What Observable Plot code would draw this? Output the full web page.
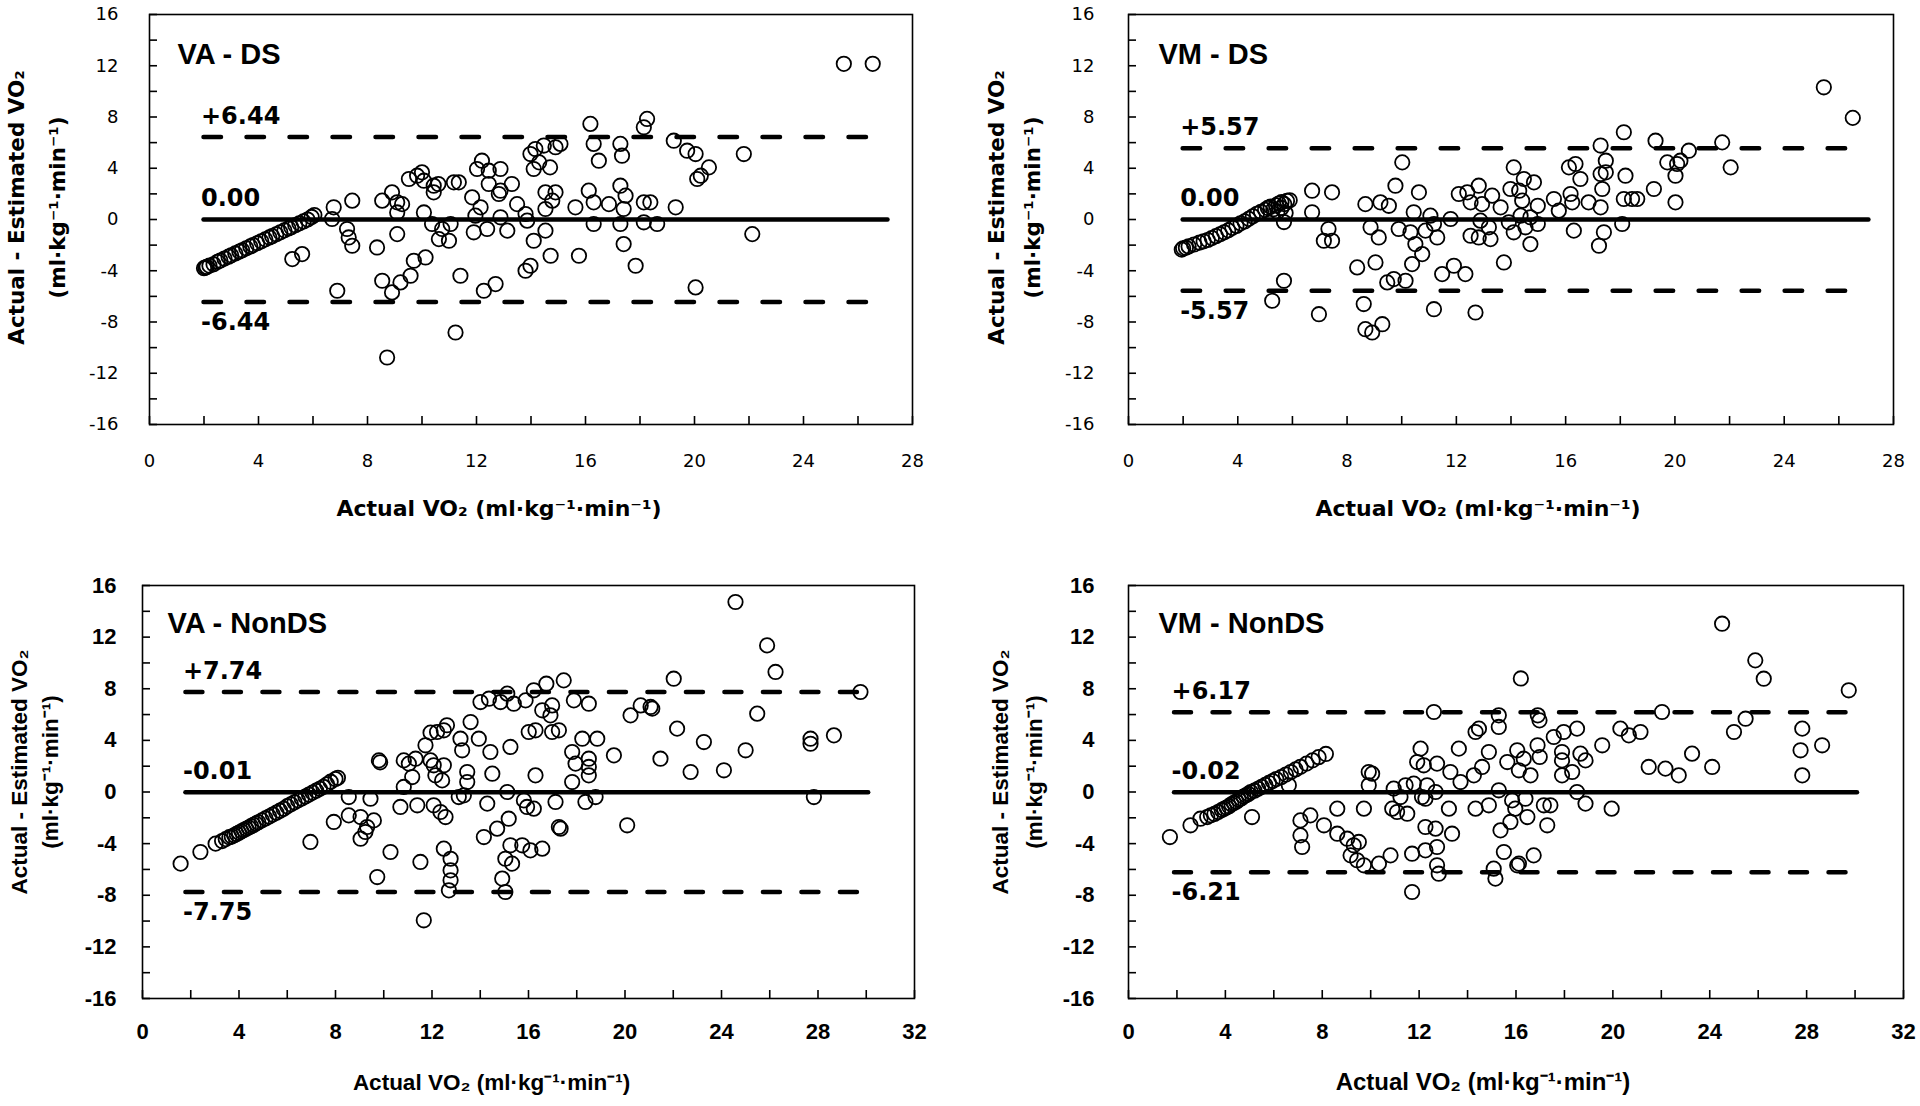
<!DOCTYPE html>
<html><head><meta charset="utf-8">
<script src="https://cdn.jsdelivr.net/npm/d3@7"></script>
<script src="https://cdn.jsdelivr.net/npm/@observablehq/plot@0.6"></script>
<style>
body{margin:0;background:#fff;}
#wrap{position:relative;width:1920px;height:1106px;overflow:hidden;background:#fff;}
#wrap svg{position:absolute;}
</style></head><body><div id="wrap"></div>
<script>
// ---------- axis ticks ----------
const yTicks = [-16,-12,-8,-4,0,4,8,12,16];
const yMinorTicks = [-16,-14,-12,-10,-8,-6,-4,-2,0,2,4,6,8,10,12,14,16];
const xTicksDS = [0,4,8,12,16,20,24,28];
const xMinorDS = [0,2,4,6,8,10,12,14,16,18,20,22,24,26,28];
const xTicksNonDS = [0,4,8,12,16,20,24,28,32];
const xMinorNonDS = [0,2,4,6,8,10,12,14,16,18,20,22,24,26,28,30,32];

// ---------- panel summary values ----------
const panelNames = ["VA - DS","VM - DS","VA - NonDS","VM - NonDS"];
const upperLoA  = [6.44, 5.57, 7.74, 6.17];
const meanBias  = [0.00, 0.00, -0.01, -0.02];
const lowerLoA  = [-6.44, -5.57, -7.75, -6.21];
const lineStartX = [2.0, 2.0, 1.8, 1.9];
const lineEndX   = [27.1, 27.1, 30.1, 30.1];
const xMax = [28, 28, 32, 32];
const xTitle = "Actual VO₂ (ml·kg⁻¹·min⁻¹)";
const yTitle = "Actual - Estimated VO₂\n(ml·kg⁻¹·min⁻¹)";

// ---------- points [actual VO2, actual - estimated] ----------
const vaDS = [
[2.0,-3.8],[2.05,-3.75],[2.1,-3.7],[2.2,-3.6],[2.35,-3.5],[2.5,-3.3],[2.6,-3.2],[2.75,-3.05],[2.9,-2.9],[3.0,-2.8],
[3.15,-2.65],[3.3,-2.5],[3.4,-2.4],[3.55,-2.25],[3.7,-2.1],[3.8,-2.0],[3.95,-1.85],[4.1,-1.7],[4.25,-1.55],[4.4,-1.4],
[4.5,-1.3],[4.65,-1.15],[4.8,-1.0],[4.95,-0.85],[5.1,-0.7],[5.2,-0.6],[5.35,-0.45],[5.5,-0.3],[5.65,-0.15],[5.8,0.0],
[5.95,0.2],[6.05,0.35],
[6.76,0.95],[6.70,0.04],[7.44,1.47],[7.25,-0.74],[7.31,-1.4],[7.44,-2.05],[5.24,-3.09],[5.60,-2.70],[6.89,-5.56],
[8.35,-2.18],[8.54,1.47],[8.9,2.12],[9.09,1.34],[9.27,1.2],[9.09,0.55],[9.09,-1.14],[8.54,-4.78],[8.9,-5.69],[8.72,-10.77],
[9.21,-4.91],[9.58,-4.39],[9.70,-3.22],[10.13,-2.96],[9.52,3.16],[9.82,3.42],[10.0,3.68],[10.07,3.03],[10.43,2.64],[10.6,2.77],
[10.43,2.12],[10.07,0.55],[10.37,-0.35],[10.74,-0.74],[10.62,-1.53],[10.99,-1.66],[11.17,2.9],[11.35,2.9],[11.05,-0.35],
[11.41,-4.39],[11.23,-8.82],[11.84,1.73],[12.15,0.95],[11.96,0.3],[11.9,-1.0],[12.02,3.94],[12.2,4.59],[12.45,3.81],
[12.88,3.94],[12.45,2.77],[12.82,1.99],[12.88,2.25],[13.3,2.77],[13.49,1.2],[12.88,0.17],[12.39,-0.74],[13.13,-0.87],
[12.27,-5.56],[12.7,-5.04],[13.86,-0.09],
[13.98,5.11],[14.16,5.5],[14.47,5.77],[14.9,5.64],[15.08,5.9],[14.1,3.94],[14.3,4.46],[14.7,4.07],[14.53,2.12],[14.9,2.12],
[14.78,1.47],[14.53,0.82],[13.8,0.43],[14.53,-0.87],[14.1,-1.66],[14.72,-2.83],[13.98,-3.61],[13.8,-4.0],[15.63,0.95],
[15.76,-2.83],[16.18,7.46],[16.3,5.9],[16.49,4.59],[16.12,2.25],[16.3,1.34],[16.3,-0.35],[16.86,1.2],[17.28,5.9],
[17.34,4.98],[17.28,2.64],[17.47,1.86],[17.4,0.82],[17.28,-0.35],[17.4,-1.92],[17.84,-3.61],[18.26,7.85],[18.14,7.2],
[18.14,1.34],[18.38,1.34],[18.14,-0.22],[18.63,-0.35],[19.31,0.95],[19.24,6.15],[19.73,5.37],[20.04,5.11],[20.53,4.07],
[20.10,3.16],[20.23,3.42],[20.04,-5.3],[21.81,5.11],[22.12,-1.14],[25.48,12.15],[26.54,12.15]
];

const vmDS = [
[1.95,-2.35],[2.0,-2.25],[2.1,-2.2],[2.2,-2.1],[2.4,-1.95],[2.6,-1.8],[2.75,-1.7],[2.9,-1.6],[3.05,-1.45],[3.2,-1.3],
[3.35,-1.15],[3.5,-1.0],[3.65,-0.85],[3.8,-0.65],[3.95,-0.5],[4.1,-0.3],[4.25,-0.15],[4.4,0.05],[4.55,0.25],[4.7,0.45],
[4.85,0.6],[5.0,0.75],[5.1,0.9],[5.2,1.0],[5.3,0.8],[5.4,1.1],[5.5,1.25],[5.6,1.35],[5.7,1.2],[5.8,1.45],[5.9,1.5],
[5.45,0.6],[5.6,0.9],[5.75,0.5],
[6.72,2.25],[7.45,2.12],[6.72,0.56],[7.32,-0.74],[7.15,-1.66],[7.45,-1.66],[5.69,-0.2],[5.69,-4.78],[5.26,-6.34],
[6.97,-7.39],[8.37,-3.74],[8.61,-6.6],[8.67,-8.56],[8.92,-8.82],[9.29,-8.17],[8.67,1.2],[9.22,1.34],[9.53,1.07],
[8.86,-0.61],[9.16,-1.4],[9.04,-3.35],[9.47,-4.91],[9.71,-4.65],[10.14,-4.78],[9.77,2.64],[10.02,4.46],[10.63,2.12],
[10.44,0.56],[9.89,-0.74],[10.32,-1.0],[10.5,-1.92],[10.87,-0.87],[11.05,0.3],[11.18,-0.35],[11.3,-1.4],[10.75,-2.7],
[10.38,-3.48],[11.18,-7.0],[11.48,-4.26],[11.91,-3.61],[12.33,-4.26],[12.7,-7.26],[11.79,0.04],[12.09,1.99],[12.4,2.12],
[12.82,2.64],[12.52,1.34],[12.94,1.2],[13.31,1.86],[12.88,-0.09],[13.19,-0.61],[12.52,-1.27],[12.82,-1.4],[13.25,-1.53],
[13.74,-3.35],[13.62,0.95],[13.98,2.38],[13.92,-0.22],
[14.1,4.07],[14.3,2.25],[14.47,3.16],[14.84,2.9],[14.41,1.47],[14.98,1.07],[14.35,0.3],[14.71,0.17],[14.98,-0.35],
[14.1,-1.0],[14.53,-0.61],[14.71,-1.92],[15.57,1.6],[15.75,0.69],[16.18,1.99],[16.24,1.34],[16.12,4.07],[16.36,4.33],
[16.54,3.16],[16.84,1.34],[16.3,-0.87],[17.28,5.77],[17.47,4.59],[17.28,3.55],[17.47,3.68],[17.34,2.38],[17.28,0.95],
[17.4,-1.0],[17.22,-2.05],[18.13,6.81],[18.19,3.42],[18.13,1.6],[18.43,1.6],[18.62,1.6],[18.07,-0.35],[19.29,6.15],
[19.23,2.38],[19.72,4.46],[20.08,4.33],[20.2,4.59],[20.02,3.42],[20.02,1.34],[20.51,5.37],[21.73,6.02],[22.04,4.07],
[25.45,10.32],[26.51,7.93]
];

const vaNonDS = [
[1.58,-5.55],[2.4,-4.65],[3.03,-4.0],
[3.3,-3.8],[3.45,-3.65],[3.6,-3.5],[3.7,-3.45],[3.8,-3.35],[3.9,-3.25],[4.0,-3.15],[4.1,-3.05],[4.2,-2.95],[4.3,-2.85],
[4.4,-2.75],[4.5,-2.65],[4.6,-2.55],[4.7,-2.45],[4.8,-2.35],[4.95,-2.2],[5.1,-2.05],[5.25,-1.9],[5.4,-1.75],[5.55,-1.6],
[5.7,-1.45],[5.85,-1.3],[6.0,-1.1],[6.15,-0.95],[6.3,-0.8],[6.45,-0.65],[6.6,-0.5],[6.75,-0.35],[6.9,-0.2],[7.05,-0.05],
[7.2,0.1],[7.35,0.25],[7.5,0.4],[7.65,0.6],[7.8,0.8],[8.0,1.0],[8.1,1.1],
[6.96,-3.87],[7.93,-2.32],[8.55,-1.81],[8.55,-0.39],[9.45,-0.52],[9.04,-1.94],[9.31,-2.71],[9.24,-3.1],[9.04,-3.62],
[9.59,-2.2],[9.8,2.45],[9.85,2.3],[9.73,-6.59],[10.28,-4.65],[10.83,0.39],[10.69,-1.16],[10.83,2.45],[11.04,2.2],
[11.32,2.58],[11.18,1.16],[11.39,-1.03],[11.52,-5.42],[11.66,-9.94],[11.73,3.62],[11.94,4.6],[12.21,4.65],[12.49,4.78],
[12.62,5.17],[11.94,2.45],[12.07,2.07],[12.14,1.29],[12.49,2.07],[12.42,0.9],[12.07,-1.03],[12.35,-1.55],[12.56,-1.94],
[12.49,-4.39],[12.77,-5.17],[12.77,-6.07],[12.77,-6.84],[12.7,-7.62],[13.18,4.13],[13.25,3.23],[13.6,5.42],[13.94,4.13],
[13.46,1.55],[13.46,0.77],[13.32,-0.26],[13.11,-0.39],[14.42,3.1],[14.5,1.42],[14.15,-3.49],[14.7,-2.84],[15.18,-2.07],
[15.12,0.0],[14.29,-0.9],[15.25,3.49],[14.01,6.97],[14.36,7.23],[14.84,6.97],[15.12,7.62],[15.39,6.84],[16.01,4.65],
[16.29,4.78],[15.25,-4.13],[15.74,-4.13],[16.08,-4.52],[15.04,-5.17],[15.32,-5.55],[14.91,-6.71],[15.04,-7.75],
[15.94,-1.16],[15.81,-0.65],[16.29,1.29],
[15.88,7.1],[16.22,7.88],[16.74,8.39],[17.46,8.65],[17.88,7.1],[18.5,6.84],[16.57,6.33],[16.98,6.71],[16.91,5.94],
[16.98,4.65],[17.26,4.78],[18.23,4.13],[18.85,4.13],[17.81,3.1],[18.5,2.58],[17.95,2.2],[18.5,1.94],[18.5,1.29],
[17.81,0.77],[19.54,2.84],[16.22,-1.29],[17.12,-0.77],[18.36,-0.77],[18.78,-0.39],[17.26,-2.71],[17.33,-2.84],
[16.57,-4.39],[20.09,-2.58],[20.23,5.94],[20.65,6.71],[21.06,6.59],[21.13,6.46],[21.47,2.58],[22.02,8.78],[22.16,4.91],
[22.72,1.55],[23.27,3.87],[24.1,1.68],[24.58,14.72],[25.0,3.23],[25.48,6.07],[25.89,11.36],[26.24,9.3],[27.69,4.13],
[27.69,3.74],[27.83,-0.39],[28.66,4.39],[29.76,7.75]
];

const vmNonDS = [
[1.71,-3.49],[2.56,-2.58],[2.97,-2.07],[3.25,-1.94],
[3.4,-1.8],[3.55,-1.7],[3.7,-1.55],[3.85,-1.4],[3.95,-1.3],[4.05,-1.2],[4.15,-1.1],[4.25,-0.95],[4.35,-0.85],[4.45,-0.75],
[4.55,-0.6],[4.65,-0.5],[4.75,-0.35],[4.85,-0.25],[4.95,-0.15],[5.05,0.0],[5.2,0.1],[5.35,0.25],[5.5,0.4],[5.65,0.55],
[5.8,0.7],[5.95,0.85],[6.1,1.0],[6.3,1.15],[6.5,1.35],[6.7,1.55],[6.9,1.75],[7.1,1.95],[7.35,2.2],[7.6,2.45],[7.85,2.7],
[8.15,2.95],
[5.1,-1.94],[6.62,0.52],[7.1,-2.2],[7.1,-3.36],[7.17,-4.26],[7.51,-1.81],[8.07,-2.58],[8.62,-1.29],[8.62,-3.23],
[9.03,-3.62],[9.3,-4.13],[9.51,-3.87],[9.17,-4.91],[9.44,-5.29],[9.72,-5.68],[10.34,-5.55],[10.82,-4.91],[9.72,-1.29],
[9.92,1.55],[10.06,1.42],[9.92,0.52],[10.95,0.26],[10.89,-1.29],[11.09,-1.55],[11.51,-1.68],[11.23,-0.39],[11.44,0.52],
[11.71,-4.78],[11.71,-7.75],[12.06,3.36],[11.92,2.32],[12.19,2.07],[11.78,0.65],[12.12,-0.39],[12.26,-0.52],[12.33,0.52],
[12.74,2.2],[12.68,0.0],[12.26,-2.71],[12.68,-2.84],[12.26,-4.52],[12.74,-4.26],[12.74,-5.68],[12.81,-6.33],[12.61,6.2],
[13.23,-1.29],[13.36,-3.23],[13.29,1.55],[13.64,3.36],[13.71,0.77],[14.33,4.65],[14.47,4.91],[14.88,3.1],[14.6,1.94],
[14.26,1.29],[14.33,-1.29],[14.88,-1.03],[15.29,0.13],[15.36,-2.97],[15.77,-2.32],[15.5,-4.65],[15.08,-5.94],[15.15,-6.71],
[15.29,5.94],[15.29,5.04],[15.64,2.32],[16.05,3.23],[16.2,8.8],[16.05,-5.68],
[16.9,5.94],[16.97,5.55],[17.97,4.65],[18.52,4.91],[17.56,4.26],[16.89,3.62],[16.98,2.71],[16.32,2.58],[16.12,1.68],
[16.6,1.29],[17.9,3.1],[17.9,2.45],[18.32,1.55],[17.9,1.29],[18.66,2.97],[18.87,2.45],[19.56,3.62],[20.31,4.91],
[20.66,4.39],[21.14,4.65],[22.03,6.2],[21.48,1.94],[22.17,1.81],[22.72,1.29],[23.27,2.97],[24.1,1.94],[25.0,4.65],
[25.48,5.68],[24.51,13.04],[25.88,10.2],[26.23,8.78],[27.82,4.91],[27.75,3.23],[27.82,1.29],[28.64,3.62],[29.74,7.88],
[15.84,-0.65],[15.97,-1.29],[16.39,-0.52],[16.47,-1.94],[17.29,-2.58],[17.15,-1.03],[17.42,-1.03],[18.52,0.0],
[18.87,-0.9],[19.95,-1.29],[16.73,-4.91],[16.12,-5.55]
];

const panelData = [vaDS, vmDS, vaNonDS, vmNonDS];

// ---------- layout (styling, not data) ----------
const DJ = "'DejaVu Sans', Verdana, sans-serif";
const LB = "'Liberation Sans', Arial, sans-serif";
const W = 960, H = 553, TICK = 8;
const layouts = [
  {left:0,   top:0,   ml:149, mr:48, mt:14, mb:129, xt:xTicksDS, xm:xMinorDS,
   tickFont:DJ, tickWeight:"normal", tickSize:18, yPad:31, xPad:30,
   titleFont:DJ, xTitleSize:22, yTitleSize:21.5, xTitleDy:84, xTitleDx:-32, yTitleDx:-118, yTitleDy:-12, yLH:1.9,
   nameDx:28, nameDy:40, dash:[17.5,25.5]},
  {left:960, top:0,   ml:168, mr:27, mt:14, mb:129, xt:xTicksDS, xm:xMinorDS,
   tickFont:DJ, tickWeight:"normal", tickSize:18, yPad:34, xPad:30,
   titleFont:DJ, xTitleSize:22, yTitleSize:21.5, xTitleDy:84, xTitleDx:-33, yTitleDx:-118, yTitleDy:-12, yLH:1.7,
   nameDx:30, nameDy:40, dash:[17.5,25.5]},
  {left:0,   top:553, ml:142, mr:46, mt:32, mb:108, xt:xTicksNonDS, xm:xMinorNonDS,
   tickFont:LB, tickWeight:"bold", tickSize:22, yPad:26, xPad:25,
   titleFont:LB, xTitleSize:22.5, yTitleSize:22.5, xTitleDy:84, xTitleDx:-37, yTitleDx:-110, yTitleDy:-20, yLH:1.4,
   nameDx:25, nameDy:38, dash:[17,21.5]},
  {left:960, top:553, ml:168, mr:17, mt:32, mb:108, xt:xTicksNonDS, xm:xMinorNonDS,
   tickFont:LB, tickWeight:"bold", tickSize:22, yPad:34, xPad:25,
   titleFont:LB, xTitleSize:24, yTitleSize:22.5, xTitleDy:84, xTitleDx:-33, yTitleDx:-114, yTitleDy:-20, yLH:1.5,
   nameDx:30, nameDy:38, dash:[17,21.5]}
];

const wrap = document.getElementById("wrap");

panelData.forEach((data, i) => {
  const L = layouts[i];
  const plotW = W - L.ml - L.mr, plotH = H - L.mt - L.mb;
  const s = lineStartX[i], e = lineEndX[i];
  const ruleRows = [
    {y: upperLoA[i], x1: s, x2: e},
    {y: lowerLoA[i], x1: s, x2: e}
  ];
  const meanRow = [{y: meanBias[i], x1: s, x2: e}];
  const aboveLabels = [
    {x: s, y: upperLoA[i], t: "+" + upperLoA[i].toFixed(2)},
    {x: s, y: meanBias[i], t: meanBias[i].toFixed(2)}
  ];
  const belowLabels = [{x: s, y: lowerLoA[i], t: lowerLoA[i].toFixed(2)}];

  const svg = Plot.plot({
    width: W, height: H,
    marginLeft: L.ml, marginRight: L.mr, marginTop: L.mt, marginBottom: L.mb,
    x: {domain: [0, xMax[i]]},
    y: {domain: [-16, 16]},
    style: {background: "white", color: "black", overflow: "visible"},
    marks: [
      Plot.frame({stroke: "black", strokeWidth: 1.6}),
      // inward tick marks (short rules hugging the left and bottom frame edges)
      Plot.ruleY(yMinorTicks, {y: d => d, insetRight: plotW - TICK, stroke: "black", strokeWidth: 1.6}),
      Plot.ruleX(L.xm, {x: d => d, insetTop: plotH - TICK, stroke: "black", strokeWidth: 1.6}),
      Plot.axisY({ticks: yTicks, tickSize: 0, tickPadding: L.yPad, tickFormat: d => String(d), label: null,
        fontFamily: L.tickFont, fontWeight: L.tickWeight, fontSize: L.tickSize}),
      Plot.axisX({ticks: L.xt, tickSize: 0, tickPadding: L.xPad, tickFormat: d => String(d), label: null,
        fontFamily: L.tickFont, fontWeight: L.tickWeight, fontSize: L.tickSize}),
      Plot.ruleY(ruleRows, {y: "y", x1: "x1", x2: "x2", stroke: "black", strokeWidth: 4.5,
        strokeDasharray: L.dash.join(","), strokeLinecap: "round"}),
      Plot.ruleY(meanRow, {y: "y", x1: "x1", x2: "x2", stroke: "black", strokeWidth: 4.5, strokeLinecap: "round"}),
      Plot.dot(data, {x: d => d[0], y: d => d[1], r: 7.2, stroke: "black", strokeWidth: 1.8, fill: "none"}),
      Plot.text(aboveLabels, {x: "x", y: "y", text: "t", dx: -3, dy: -21, textAnchor: "start",
        fontFamily: DJ, fontWeight: "bold", fontSize: 24, fill: "black"}),
      Plot.text(belowLabels, {x: "x", y: "y", text: "t", dx: -3, dy: 20, textAnchor: "start",
        fontFamily: DJ, fontWeight: "bold", fontSize: 24, fill: "black"}),
      Plot.text([panelNames[i]], {frameAnchor: "top-left", text: d => d, dx: L.nameDx, dy: L.nameDy,
        textAnchor: "start", lineAnchor: "middle", fontFamily: LB, fontWeight: "bold", fontSize: 29, fill: "black"}),
      Plot.text([xTitle], {frameAnchor: "bottom", text: d => d, dx: L.xTitleDx, dy: L.xTitleDy,
        lineAnchor: "middle", fontFamily: L.titleFont, fontWeight: "bold", fontSize: L.xTitleSize, fill: "black"}),
      Plot.text([yTitle], {frameAnchor: "left", text: d => d, dx: L.yTitleDx, dy: L.yTitleDy, rotate: -90,
        lineAnchor: "middle", lineHeight: L.yLH, textAnchor: "middle",
        fontFamily: L.titleFont, fontWeight: "bold", fontSize: L.yTitleSize, fill: "black"})
    ]
  });
  svg.style.left = L.left + "px";
  svg.style.top = L.top + "px";
  wrap.appendChild(svg);
});
</script>
</body></html>
